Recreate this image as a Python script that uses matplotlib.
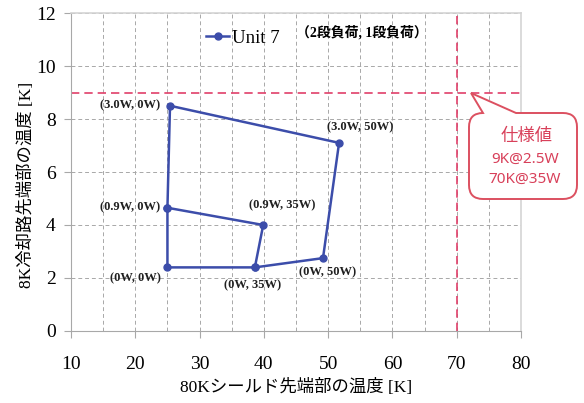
import matplotlib
matplotlib.use('Agg')
import matplotlib.pyplot as plt
from matplotlib.path import Path
from matplotlib.patches import PathPatch
from matplotlib.transforms import Affine2D

SERIF_JP = ['Liberation Serif', 'Noto Sans CJK JP']

# shield tip temperature [K] vs 8K line tip temperature [K], one path through all load points
shield_temp = [25.0, 39.9, 38.6, 25.0, 25.0, 25.4, 51.7, 49.2, 38.6]
tip_temp = [4.65, 4.0, 2.4, 2.4, 4.65, 8.5, 7.1, 2.75, 2.4]

# labelled load points (2-stage load, 1-stage load)
point_names = ['(3.0W, 0W)', '(3.0W, 50W)', '(0.9W, 0W)', '(0.9W, 35W)',
               '(0W, 0W)', '(0W, 35W)', '(0W, 50W)']
point_x = [25.4, 51.7, 25.0, 39.9, 25.0, 38.6, 49.2]
point_y = [8.5, 7.1, 4.65, 4.0, 2.4, 2.4, 2.75]
label_offsets = [(-29, 0), (15, 11), (-27, 0), (14, 14), (-23, -8), (-2, -13), (3, -10)]

spec_tip = 9
spec_shield = 70
spec_lines = ['仕様値', '9K@2.5W', '70K@35W']

x_ticks = [10, 20, 30, 40, 50, 60, 70, 80]
y_ticks = [0, 2, 4, 6, 8, 10, 12]

blue = '#3C4DAA'
red = '#E0406A'
grey = '#A8A8A8'

fig = plt.figure(figsize=(5.84, 4.03), dpi=100)
ax = fig.add_axes([0.1216, 0.1787, 0.7705, 0.789])

ax.set_xlim(10, 80)
ax.set_ylim(0, 12)
ax.set_xticks(x_ticks)
ax.set_yticks(y_ticks)
ax.set_xticks(range(15, 80, 10), minor=True)

# dashed grid, every 5 K across and every 2 K up
ax.grid(True, which='both', axis='x', color=grey, linestyle=(0, (4, 3)), linewidth=0.7)
ax.grid(True, which='major', axis='y', color=grey, linestyle=(0, (4, 3)), linewidth=0.7)
ax.tick_params(which='minor', length=0)
ax.tick_params(which='major', length=5, width=0.8, color=grey, direction='out',
               labelsize=14, pad=6)
ax.tick_params(axis='x', which='major', pad=13)
for lbl in ax.get_xticklabels() + ax.get_yticklabels():
    lbl.set_fontfamily('Liberation Serif')
for side in ['left', 'bottom']:
    ax.spines[side].set_color(grey)
for side in ['top', 'right']:
    ax.spines[side].set_color('#D4D4D4')
    ax.spines[side].set_linewidth(1.2)
ax.set_axisbelow(True)

# spec limits
ax.axhline(spec_tip, color=red, linestyle=(0, (5, 3)), linewidth=1.2)
ax.axvline(spec_shield, color=red, linestyle=(0, (5, 3)), linewidth=1.2)

ax.plot(shield_temp, tip_temp, color=blue, linewidth=1.8, marker='o', markersize=5,
        label='Unit 7', zorder=4)

for name, px, py, off in zip(point_names, point_x, point_y, label_offsets):
    ax.annotate(name, (px, py), xytext=off, textcoords='offset points',
                ha='center', va='center', fontsize=9, fontweight='bold',
                family='Liberation Serif', color='#202020')

leg = ax.legend(loc='center left', bbox_to_anchor=(0.28, 0.921), frameon=False,
                handlelength=1.2, handletextpad=0.15, borderpad=0,
                prop={'family': 'Liberation Serif', 'size': 13.5})
ax.text(0.647, 0.94, '（2段負荷, 1段負荷）', transform=ax.transAxes, ha='center',
        va='center', fontsize=10, fontweight='bold', family=SERIF_JP)

ax.set_xlabel('80Kシールド先端部の温度 [K]', fontsize=12.5, family=SERIF_JP, labelpad=4)
ax.set_ylabel('8K冷却路先端部の温度 [K]', fontsize=12.5, family=SERIF_JP)
ax.yaxis.set_label_coords(-0.08, 0.46)

# speech-bubble callout for the spec values, laid out in output pixels
L, R, T, B, r = 469, 577, 113, 199, 14
tip = (471, 93)
notch_r = 516
verts = [(L + r, T), tip, (notch_r, T), (R - r, T), (R, T), (R, T + r),
         (R, B - r), (R, B), (R - r, B), (L + r, B), (L, B), (L, B - r),
         (L, T + r), (L, T), (L + r, T), (L + r, T)]
codes = [Path.MOVETO, Path.LINETO, Path.LINETO, Path.LINETO, Path.CURVE3, Path.CURVE3,
         Path.LINETO, Path.CURVE3, Path.CURVE3, Path.LINETO, Path.CURVE3, Path.CURVE3,
         Path.LINETO, Path.CURVE3, Path.CURVE3, Path.CLOSEPOLY]
to_display = Affine2D().scale(1, -1).translate(0, 403)
bubble = PathPatch(Path(verts, codes), facecolor='white', edgecolor='#DC5060',
                   linewidth=1.4, transform=to_display, zorder=5)
fig.patches.append(bubble)

fig.text(527 / 584, 1 - 136 / 403, spec_lines[0], ha='center', va='center',
         fontsize=12.5, color='#D8405A', family='Noto Sans CJK JP', zorder=6)
fig.text(525 / 584, 1 - 159 / 403, spec_lines[1], ha='center', va='center',
         fontsize=11, color='#D8405A', family='Noto Sans', zorder=6)
fig.text(525 / 584, 1 - 179 / 403, spec_lines[2], ha='center', va='center',
         fontsize=11, color='#D8405A', family='Noto Sans', zorder=6)

fig.savefig('out.png', dpi=100)
